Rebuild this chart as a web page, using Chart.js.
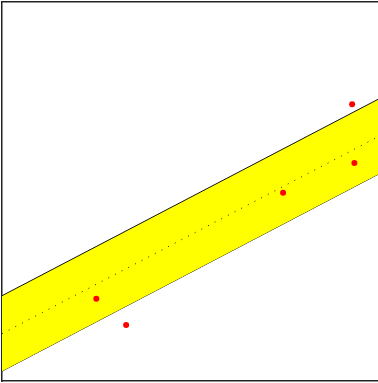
<!DOCTYPE html>
<html>
<head>
<meta charset="utf-8">
<script src="https://cdn.jsdelivr.net/npm/chart.js@4/dist/chart.umd.min.js"></script>
<style>
	html, body { margin: 0; padding: 0; background: #fff; overflow: hidden; }
	canvas { display: block; margin: -2px 0 0 -2px; }
</style>
</head>
<body>
<canvas id="chart" width="400" height="387"></canvas>
<script>
// observed points
const pointX = [2.5, 3.29, 7.45, 9.28, 9.34];
const pointY = [2.17, 1.48, 4.97, 7.30, 5.75];

// fitted line and its band, given at both ends of the x range
const bandX = [0, 10];
const upperY = [2.25, 7.45];
const fitY = [1.25, 6.46];
const lowerY = [0.26, 5.47];

// plot runs on past the right edge of the page
const xMin = 0, xMax = 10.39;
const yMin = 0, yMax = 10;

function toXY(xs, ys) {
	return xs.map((x, i) => ({ x: x, y: ys[i] }));
}

const hiddenAxis = {
	type: 'linear',
	min: xMin,
	max: xMax,
	ticks: { display: false },
	grid: { display: false, drawTicks: false },
	border: { display: true, color: '#222', width: 1.5 }
};

new Chart(document.getElementById('chart'), {
	type: 'scatter',
	data: {
		datasets: [
			{
				data: toXY(pointX, pointY),
				backgroundColor: '#ff0000',
				borderColor: '#ff0000',
				pointRadius: 3,
				borderWidth: 0,
				order: 0
			},
			{
				type: 'line',
				data: toXY(bandX, fitY),
				borderColor: '#222',
				borderWidth: 1,
				borderDash: [1, 6.5],
				pointRadius: 0,
				fill: false,
				order: 1
			},
			{
				type: 'line',
				data: toXY(bandX, upperY),
				borderColor: '#111',
				borderWidth: 1,
				backgroundColor: '#ffff00',
				pointRadius: 0,
				fill: '+1',
				order: 2
			},
			{
				type: 'line',
				data: toXY(bandX, lowerY),
				borderColor: '#111',
				borderWidth: 1,
				pointRadius: 0,
				fill: false,
				order: 2
			}
		]
	},
	options: {
		responsive: false,
		animation: false,
		layout: { padding: { left: 0, top: 0, right: 0, bottom: 1 } },
		plugins: {
			legend: { display: false },
			tooltip: { enabled: false }
		},
		scales: {
			x: Object.assign({}, hiddenAxis, { position: 'bottom' }),
			xTop: Object.assign({}, hiddenAxis, { position: 'top' }),
			y: Object.assign({}, hiddenAxis, { position: 'left', min: yMin, max: yMax })
		}
	}
});
</script>
</body>
</html>
